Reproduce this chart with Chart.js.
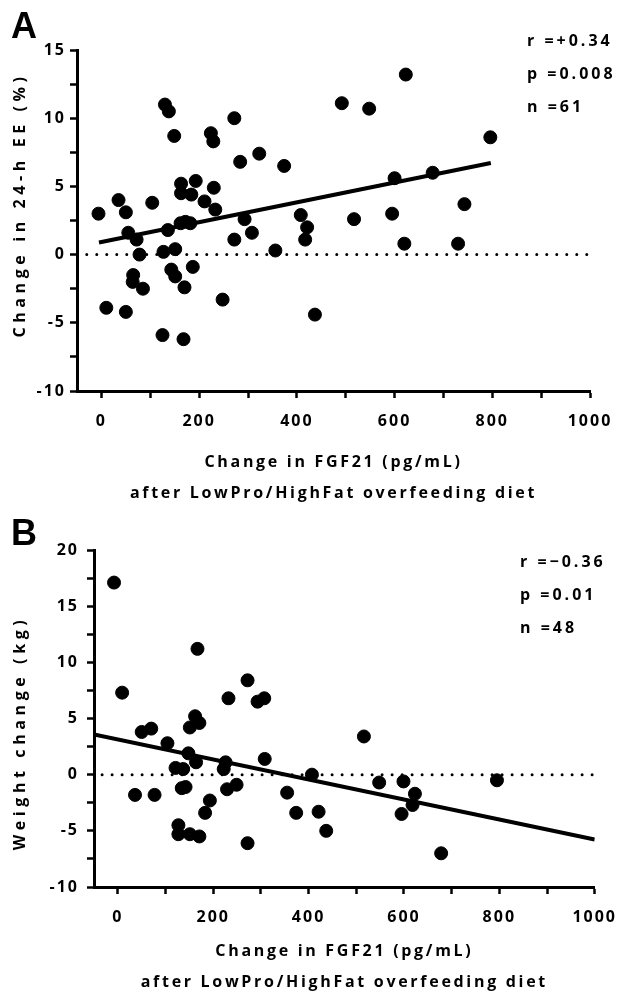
<!DOCTYPE html>
<html>
<head>
<meta charset="utf-8">
<script src="https://cdn.jsdelivr.net/npm/chart.js@4"></script>
<style>
  body { margin: 0; background: #fff; }
  #wrap { position: relative; width: 627px; height: 996px; }
  canvas { position: absolute; left: 0; }
</style>
</head>
<body>
<div id="wrap">
  <canvas id="chartA" width="627" height="512" style="top:0"></canvas>
  <canvas id="chartB" width="627" height="496" style="top:500px"></canvas>
</div>
<script>
// panel A: change in FGF21 vs change in 24-h EE
var fgfA = [-6, 10, 35, 50, 50, 55, 72, 78, 65, 64, 85, 104, 130, 138, 149, 125, 136, 127, 151, 143,
  151, 170, 168, 163, 163, 184, 193, 162, 172, 182, 187, 211, 224, 229, 230, 233, 248, 272, 272, 284,
  293, 308, 323, 356, 374, 408, 421, 417, 437, 492, 517, 623, 548, 796, 678, 600, 743, 595, 620, 730];
var eeA = [3.0, -3.9, 4.0, 3.1, -4.2, 1.6, 1.1, 0.0, -1.5, -2.0, -2.5, 3.8, 11.0, 10.5, 8.7, -5.9, 1.8, 0.2, 0.4, -1.1,
  -1.6, -2.4, -6.2, 5.2, 4.5, 4.4, 5.4, 2.3, 2.4, 2.3, -0.9, 3.9, 8.9, 8.3, 4.9, 3.3, -3.3, 10.0, 1.1, 6.8,
  2.6, 1.6, 7.4, 0.3, 6.5, 2.9, 2.0, 1.1, -4.4, 11.1, 2.6, 13.2, 10.7, 8.6, 6.0, 5.6, 3.7, 3.0, 0.8, 0.8];
var fitAx = [-5, 797];
var fitAy = [0.89, 6.71];
var statsA = ['r =+0.34', 'p =0.008', 'n =61'];

// panel B: change in FGF21 vs weight change
var fgfB = [-8, 9, 36, 50, 70, 77, 104, 121, 137, 134, 142, 127, 127, 151, 171, 148, 164, 151, 162, 171,
  167, 183, 193, 226, 222, 229, 249, 232, 272, 272, 293, 307, 308, 355, 374, 407, 421, 437, 516, 548,
  599, 595, 623, 618, 678, 795];
var wtB = [17.1, 7.3, -1.8, 3.8, 4.1, -1.8, 2.8, 0.6, 0.5, -1.2, -1.1, -4.5, -5.3, -5.3, -5.5, 1.9, 1.1, 4.2, 5.2, 4.6,
  11.2, -3.4, -2.3, 1.1, 0.5, -1.3, -0.9, 6.8, 8.4, -6.1, 6.5, 6.8, 1.4, -1.6, -3.4, 0.0, -3.3, -5.0, 3.4, -0.7,
  -0.6, -3.5, -1.7, -2.7, -7.0, -0.5];
var fitBx = [-50, 1000];
var fitBy = [3.57, -5.78];
var statsB = ['r =\u22120.36', 'p =0.01', 'n =48'];

// shared axis values
var xTicks = [0, 100, 200, 300, 400, 500, 600, 700, 800, 900, 1000];
var zeroLineX = [-30, 1000];
var xTitle = ['Change in FGF21 (pg/mL)', 'after LowPro/HighFat overfeeding diet'];

var FONT = '"Open Sans", "DejaVu Sans", sans-serif';

function pts(xs, ys) {
  return xs.map(function (x, i) { return { x: x, y: ys[i] }; });
}

// draws panel letter, r/p/n text and axis titles, with letter spacing
var extras = {
  id: 'extras',
  beforeDraw: function (chart) {
    chart.ctx.letterSpacing = '2px';
  },
  afterDraw: function (chart, args, o) {
    var ctx = chart.ctx;
    var a = chart.chartArea;
    ctx.save();
    ctx.fillStyle = '#000';

    ctx.letterSpacing = '0px';
    ctx.font = 'bold 36px "Liberation Sans", Arial, sans-serif';
    ctx.textAlign = 'left';
    ctx.textBaseline = 'alphabetic';
    ctx.fillText(o.letter, 11, o.letterY);

    ctx.letterSpacing = '3px';
    ctx.font = 'bold 16px ' + FONT;
    ctx.textBaseline = 'middle';
    for (var i = 0; i < o.stats.length; i++) {
      ctx.fillText(o.stats[i], o.statsX, o.statsY + i * 33);
    }

    ctx.letterSpacing = '2.7px';
    ctx.textAlign = 'center';
    var cx = (a.left + a.right) / 2;
    ctx.fillText(xTitle[0], cx, o.titleY);
    ctx.fillText(xTitle[1], cx, o.titleY + 31);

    // y title is more spread out
    ctx.letterSpacing = '4.6px';
    ctx.translate(20, o.yTitleY);
    ctx.rotate(-Math.PI / 2);
    ctx.fillText(o.yTitle, 0, 0);
    ctx.restore();
  }
};

function makeChart(id, xs, ys, fx, fy, zeroX, ymin, ymax, yWidth, xHeight, pad, extra) {
  return new Chart(document.getElementById(id), {
    type: 'scatter',
    data: {
      datasets: [{
        type: 'line',
        data: pts(zeroX, [0, 0]),
        borderColor: '#000',
        borderWidth: 3,
        borderDash: [0, 10],
        borderCapStyle: 'round',
        pointRadius: 0,
        order: 3
      }, {
        type: 'line',
        data: pts(fx, fy),
        borderColor: '#000',
        borderWidth: 4,
        pointRadius: 0,
        order: 2
      }, {
        data: pts(xs, ys),
        backgroundColor: '#000',
        borderColor: '#000',
        pointRadius: 6.5,
        order: 1
      }]
    },
    options: {
      responsive: false,
      animation: false,
      devicePixelRatio: 1,
      layout: { padding: pad },
      plugins: { legend: { display: false }, tooltip: { enabled: false }, extras: extra },
      scales: {
        x: {
          type: 'linear',
          min: -50,
          max: 1000,
          afterBuildTicks: function (s) { s.ticks = xTicks.map(function (v) { return { value: v }; }); },
          afterFit: function (s) { s.height = xHeight; },
          ticks: {
            autoSkip: false,
            maxRotation: 0,
            padding: 14,
            color: '#000',
            font: { family: FONT, size: 16, weight: 'bold' },
            callback: function (v) { return v % 200 === 0 ? String(v) : ''; }
          },
          grid: { drawOnChartArea: false, tickLength: 7, tickWidth: 2.5, tickColor: '#000' },
          border: { color: '#000', width: 3 }
        },
        y: {
          min: ymin,
          max: ymax,
          afterFit: function (s) { s.width = yWidth; },
          ticks: {
            stepSize: 2.5,
            padding: extra.yPad,
            color: '#000',
            font: { family: FONT, size: 16, weight: 'bold' },
            callback: function (v) { return v % 5 === 0 ? String(v) : ''; }
          },
          grid: { drawOnChartArea: false, tickLength: 7, tickWidth: 2.5, tickColor: '#000' },
          border: { color: '#000', width: 3 }
        }
      }
    },
    plugins: [extras]
  });
}

makeChart('chartA', fgfA, eeA, fitAx, fitAy, zeroLineX, -10, 15, 77, 121,
  { left: 0, right: 37, top: 50, bottom: 0 },
  { letter: 'A', letterY: 38, stats: statsA, statsX: 527, statsY: 41, titleY: 462,
    yTitle: 'Change in 24-h EE (%)', yTitleY: 205, yPad: 4 });

makeChart('chartB', fgfB, wtB, fitBx, fitBy, [-33, 1000], -10, 20, 94, 109,
  { left: 0, right: 26, top: 50, bottom: 0 },
  { letter: 'B', letterY: 45, stats: statsB, statsX: 520, statsY: 62, titleY: 451,
    yTitle: 'Weight change (kg)', yTitleY: 233, yPad: 8 });
</script>
</body>
</html>
